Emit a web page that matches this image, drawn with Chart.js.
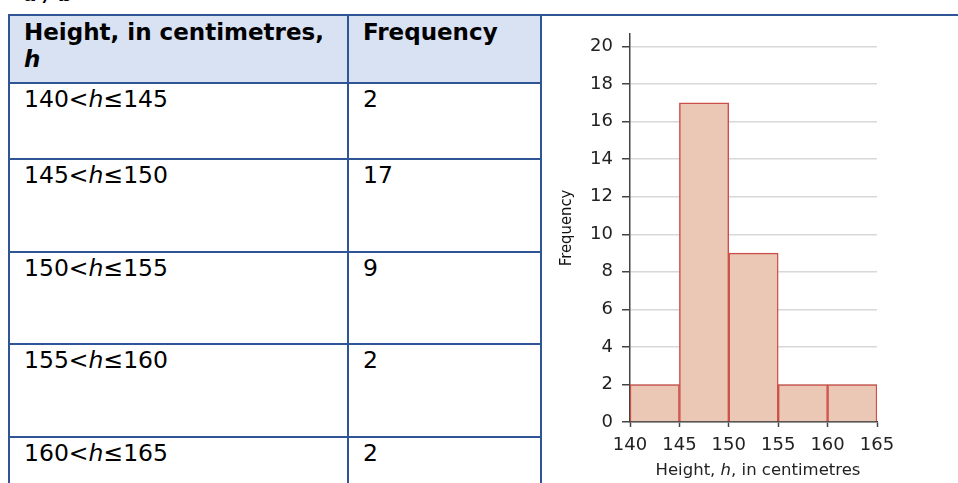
<!DOCTYPE html>
<html>
<head>
<meta charset="utf-8">
<script src="https://cdn.jsdelivr.net/npm/chart.js@4"></script>
<style>
  html, body { margin:0; padding:0; background:#fff; width:958px; height:483px; overflow:hidden; position:relative; }
  body { font-family: "DejaVu Sans", Verdana, sans-serif; color:#000; }
  #topNote { position:absolute; left:24px; top:-18px; font-size:20px; font-weight:bold; font-style:italic; }
  table { position:absolute; left:8px; top:14px; border-collapse:collapse; table-layout:fixed; width:1000px; }
  td { border:2px solid #2f5597; vertical-align:top; font-size:23.5px; padding:2px 14px; box-sizing:border-box; line-height:27px; }
  tr.head td.c { background:#d9e2f3; font-weight:bold; font-size:23px; padding-top:3px; }
  td.img { background:#fff; }
  #chartBox { position:absolute; left:542px; top:14px; width:416px; height:469px; }
  #xTitle { position:absolute; left:758px; top:460px; transform:translateX(-50%); font-size:16.5px; color:#222; white-space:nowrap; }
</style>
</head>
<body>
<div id="topNote">a / b</div>
<table id="freqTable">
  <colgroup><col style="width:339px"><col style="width:193px"><col style="width:468px"></colgroup>
  <tbody id="tbody"></tbody>
</table>
<div id="chartBox"><canvas id="histChart"></canvas></div>
<div id="xTitle">Height, <i>h</i>, in centimetres</div>

<script>
const binEdges    = [140, 145, 150, 155, 160, 165];
const frequencies = [2, 17, 9, 2, 2];
const yTickValues = [0, 2, 4, 6, 8, 10, 12, 14, 16, 18, 20];
const yAxisTop    = 20.68;   // axis line runs a little past the last tick
const rowHeights  = [68, 76, 93, 92, 93, 93];

document.addEventListener('DOMContentLoaded', () => {
    // table
    const tbody = document.getElementById('tbody');
    let html = `<tr class="head" style="height:${rowHeights[0]}px">
        <td class="c">Height, in centimetres, <i>h</i></td>
        <td class="c">Frequency</td>
        <td class="img" rowspan="${frequencies.length + 1}"></td></tr>`;
    frequencies.forEach((f, i) => {
        html += `<tr style="height:${rowHeights[i + 1]}px">
            <td>${binEdges[i]}&lt;<i>h</i>≤${binEdges[i + 1]}</td>
            <td>${f}</td></tr>`;
    });
    tbody.innerHTML = html;

    // histogram
    const points = frequencies.map((f, i) => ({ x: (binEdges[i] + binEdges[i + 1]) / 2, y: f }));
    const tickFont = { family:'"DejaVu Sans", Verdana, sans-serif', size:18 };

    new Chart(document.getElementById('histChart'), {
        type: 'bar',
        data: {
            datasets: [{
                data: points,
                backgroundColor: '#ebc7b5',
                borderColor: '#cc5049',
                borderWidth: 1.5,
                barPercentage: 1,
                categoryPercentage: 1
            }]
        },
        options: {
            responsive: true,
            maintainAspectRatio: false,
            animation: false,
            layout: { padding: { top:1, right:81, left:0, bottom:0 } },
            plugins: { legend: { display:false }, tooltip: { enabled:false } },
            scales: {
                x: {
                    type: 'linear',
                    offset: false,
                    min: binEdges[0],
                    max: binEdges[binEdges.length - 1],
                    afterBuildTicks: s => { s.ticks = binEdges.map(v => ({ value:v })); },
                    afterFit: s => { s.height = 61; },
                    grid: { offset:false, drawOnChartArea:false, drawTicks:true, tickLength:5, tickColor:'#444', tickWidth:1.5 },
                    border: { color:'#444', width:1.5 },
                    ticks: { font:tickFont, color:'#222', padding:8, maxRotation:0 }
                },
                y: {
                    min: 0,
                    max: yAxisTop,
                    afterBuildTicks: s => { s.ticks = yTickValues.map(v => ({ value:v })); },
                    afterFit: s => { s.width = 88; },
                    grid: { color:'#d8d8d8', lineWidth:1.5, tickLength:8, tickColor:'#444', tickWidth:1.5 },
                    border: { color:'#444', width:1.5 },
                    ticks: { font:tickFont, color:'#222', padding:9 },
                    title: {
                        display: true,
                        text: 'Frequency',
                        color: '#111',
                        font: { family:'"Liberation Sans Narrow", "DejaVu Sans Condensed", sans-serif', size:16.5 },
                        padding: { top:15, bottom:0 }
                    }
                }
            }
        }
    });
});
</script>
</body>
</html>
